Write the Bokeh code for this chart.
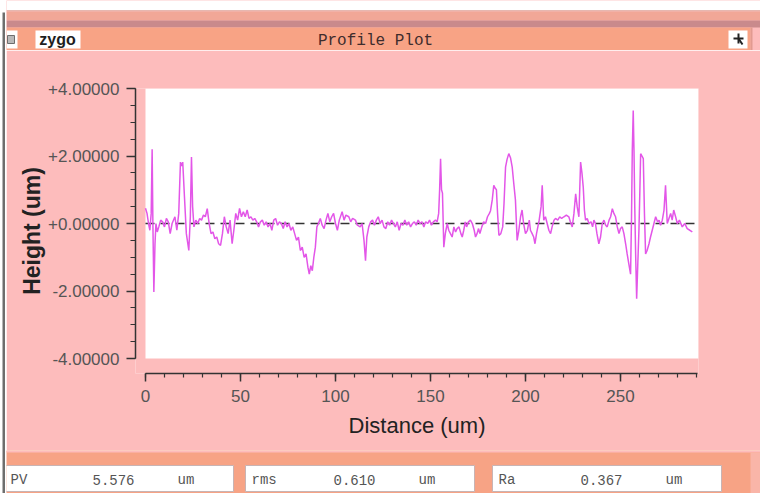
from bokeh.plotting import figure
from bokeh.models import Range1d, FixedTicker, CustomJSTickFormatter, BoxAnnotation
from bokeh.layouts import column, row
from bokeh.embed import file_html
from bokeh.resources import INLINE
from bokeh.core.properties import value

# ---------------- data ----------------
distance = [0, 0.8, 1.6, 2.3, 3.0, 3.5, 3.9, 4.4, 5.0, 5.5, 6.2, 7.0, 8.0, 9.0, 10.0, 11.0, 12.0, 13.0, 14.0,
            15.5, 16.5, 17.5, 18.4, 19.0, 19.6, 20.5, 21.5, 22.8, 23.6, 24.2, 24.8, 25.5, 26.5, 27.5, 28.5,
            29.5, 30.5, 31.5, 32.5, 33.5, 34.5, 35.5, 36.5, 37.5, 38.5, 39.5, 40.5, 41.5, 42.5, 43.5, 44.5,
            45.6, 46.5, 47.5, 48.5, 49.5, 50.5, 51.5, 52.5, 53.5, 54.5, 55.5, 56.5, 57.5, 58.5, 59.5, 60.5,
            61.5, 62.5, 63.5, 64.5, 65.5, 66.5, 67.5, 68.5, 69.5, 70.5, 71.5, 72.5, 73.5, 74.5, 75.5, 76.5,
            77.5, 78.5, 79.5, 80.5, 81.5, 82.5, 83.5, 84.5, 85.5, 86.2, 87.0, 87.8, 88.6, 89.4, 90.2, 91.0,
            92.0, 93.0, 94.0, 95.0, 96.0, 97.0, 98.0, 99.0, 100.0, 101.0, 102.0, 103.5, 104.5, 105.5, 107.0,
            108.0, 109.0, 110.5, 111.5, 113.0, 114.0, 115.0, 115.8, 116.5, 117.5, 118.5, 119.5, 120.5, 121.5,
            122.5, 123.5, 124.5, 125.5, 126.5, 127.5, 128.5, 129.5, 130.5, 131.5, 132.5, 133.5, 134.5, 135.5,
            136.5, 137.5, 138.5, 139.5, 140.5, 141.5, 142.5, 143.5, 144.5, 145.5, 146.5, 147.5, 148.5, 149.5,
            150.5, 151.5, 152.6, 153.5, 154.3, 154.8, 155.3, 155.8, 156.3, 157.0, 157.8, 158.8, 159.6, 160.5,
            161.4, 162.3, 163.2, 164.0, 165.0, 166.0, 166.7, 167.5, 168.3, 169.0, 170.0, 171.0, 172.0, 173.0,
            173.7, 174.5, 175.3, 176.0, 177.0, 178.0, 179.0, 180.0, 181.0, 181.6, 182.5, 183.3, 184.0, 184.7,
            185.3, 186.0, 187.0, 188.0, 188.7, 189.5, 190.3, 191.2, 192.1, 193.0, 193.8, 194.7, 195.6, 196.5,
            197.4, 198.2, 199.0, 200.0, 201.0, 202.0, 202.6, 203.5, 204.3, 205.0, 205.8, 206.5, 207.2, 208.2,
            208.8, 209.6, 210.5, 211.4, 212.3, 213.2, 214.0, 215.0, 215.8, 217.0, 218.0, 219.0, 220.2, 221.5,
            222.8, 223.6, 224.6, 225.5, 226.4, 227.2, 228.1, 229.0, 229.7, 230.4, 231.0, 231.6, 232.5, 233.4,
            234.5, 235.3, 236.0, 236.8, 237.6, 238.6, 239.5, 240.4, 241.3, 242.2, 243.0, 244.0, 244.8, 245.7,
            246.5, 247.4, 248.3, 249.2, 250.0, 250.9, 251.8, 252.7, 253.5, 254.4, 255.3, 255.8, 256.2, 256.7,
            257.1, 257.5, 258.0, 258.5, 259.1, 259.7, 260.2, 260.6, 261.3, 262.0, 262.6, 263.2, 264.0, 265.0,
            265.8, 266.7, 267.6, 268.5, 269.5, 270.3, 271.1, 272.0, 272.9, 273.7, 274.6, 275.5, 276.4, 277.2,
            278.0, 279.0, 279.9, 281.0, 282.5, 283.8, 285.1, 286.5, 287.8]
height = [0.45, 0.3, 0.0, -0.2, 0.3, 2.2, 0.0, -2.03, -0.6, 0.0, -0.25, -0.1, 0.1, 0.05, -0.1, 0.15, 0.05, -0.3, 0.0,
          0.2, -0.2, 0.3, 1.82, 1.7, 1.82, 0.8, -0.3, -0.8, 0.2, 1.97, 0.5, -0.1, 0.1, 0.0, 0.15,
          0.1, 0.25, 0.2, 0.44, 0.0, -0.3, -0.25, -0.45, -0.4, -0.6, -0.65, -0.3, 0.2, -0.1, -0.3, 0.1,
          -0.6, -0.2, 0.3, 0.1, 0.45, 0.2, 0.35, 0.2, 0.4, 0.15, 0.2, 0.1, 0.15, 0.05, -0.1, 0.05,
          0.1, -0.05, 0.05, -0.1, 0.0, -0.2, 0.1, 0.15, -0.05, 0.05, 0.0, -0.15, 0.05, -0.1, 0.0, -0.2,
          -0.1, -0.3, -0.5, -0.4, -0.8, -0.7, -1.0, -0.9, -1.3, -1.5, -1.25, -1.4, -1.0, -0.7, -0.1, 0.0,
          0.15, -0.05, -0.15, 0.1, 0.3, 0.05, 0.2, 0.3, 0.0, -0.2, 0.1, 0.35, 0.1, 0.25, 0.2,
          0.05, 0.15, 0.1, -0.05, -0.1, 0.0, -0.5, -1.1, -0.4, -0.1, 0.05, 0.1, -0.05, 0.1,
          0.2, 0.0, 0.1, -0.1, -0.15, 0.05, -0.05, 0.1, 0.0, -0.1, 0.05, -0.2, 0.0, -0.05,
          0.1, -0.05, 0.05, -0.1, 0.0, 0.05, -0.05, 0.1, 0.0, 0.05, -0.1, 0.05, 0.0, 0.1,
          -0.05, 0.05, 0.1, 0.05, 0.3, 1.0, 1.92, 1.0, 0.9, -0.7, -0.3, 0.0, -0.2, -0.3,
          -0.4, -0.1, -0.25, -0.15, -0.1, -0.3, -0.4, -0.2, 0.05, -0.1, 0.05, 0.1, 0.0, -0.2,
          -0.4, -0.3, -0.15, -0.3, -0.1, 0.05, 0.0, 0.2, 0.3, 0.38, 0.7, 1.13, 1.05, 1.0,
          0.3, -0.35, -0.3, -0.1, 0.6, 1.67, 1.9, 2.07, 1.95, 1.67, 1.2, 0.7, -0.5, -0.2,
          0.2, 0.4, 0.0, -0.3, -0.2, 0.1, -0.2, -0.3, -0.4, -0.6, -0.3, -0.1, 0.1, 0.5,
          1.13, 0.1, 0.2, 0.0, -0.2, -0.3, -0.1, 0.1, 0.15, 0.1, 0.2, 0.15, 0.2, 0.25,
          0.2, 0.05, -0.1, 0.3, 0.88, 0.5, 0.2, 1.82, 1.5, 1.07, 0.4, 0.1, 0.15, 0.0,
          0.05, -0.1, 0.1, 0.0, -0.3, -0.6, -0.4, 0.0, 0.1, -0.05, -0.1, 0.1, 0.2, 0.44,
          0.3, 0.2, -0.1, -0.3, -0.15, -0.1, -0.3, -0.6, -0.9, -1.2, -1.5, 0.2, 2.16, 3.35,
          2.16, 0.5, -1.0, -2.23, -1.2, -0.2, 1.0, 2.07, 2.0, 1.92, 0.3, -0.9, -0.8, -0.6,
          -0.4, -0.2, 0.0, 0.2, 0.05, 0.1, -0.05, 0.1, 0.4, 1.13, 0.0, 0.15, 0.3, 0.1,
          0.4, 0.2, 0.0, 0.1, -0.1, 0.0, -0.15, -0.2, -0.25]

x_ticks = [0, 50, 100, 150, 200, 250]
x_minor_ticks = [0, 10, 20, 30, 40, 50, 60, 70, 80, 90, 100, 110, 120, 130, 140, 150, 160, 170, 180, 190,
                 200, 210, 220, 230, 240, 250, 260, 270, 280, 290]
y_ticks = [-4, -2, 0, 2, 4]
y_minor_ticks = [-4, -3.5, -3, -2.5, -2, -1.5, -1, -0.5, 0, 0.5, 1, 1.5, 2, 2.5, 3, 3.5, 4]
x_end = 290.5

stat_names = ["PV", "rms", "Ra"]
stat_values = ["5.576", "0.610", "0.367"]
stat_units = ["um", "um", "um"]

window_title = "Profile Plot"
badge_text = "zygo"

# ---------------- styles ----------------
PINK = "#FDBCBC"
ORANGE = "#F7A385"
TITLE_ORANGE = "#F8A385"
MONO = "Liberation Mono"
SANS = "Liberation Sans"


def deco(w, h, bg):
    f = figure(width=w, height=h, x_range=Range1d(0, w), y_range=Range1d(h, 0),
               output_backend="svg", toolbar_location=None, min_border=0,
               x_axis_location=None, y_axis_location=None, outline_line_color=None,
               background_fill_color=bg, border_fill_color=bg, frame_align=False)
    f.grid.visible = False
    return f


# ---------------- left window edge ----------------
left = deco(6, 493, "#FFFFFF")
left.quad(left=[2], right=[4.5], top=[12], bottom=[493], fill_color="#6E6E6E", line_color=None)

# ---------------- title bar ----------------
W = 754
top = deco(W, 50, PINK)
top.quad(left=[0], right=[W], top=[0], bottom=[9.5], fill_color="#FFFFFF", line_color=None)
top.quad(left=[0], right=[W], top=[9.5], bottom=[11], fill_color="#E6B7B0", line_color=None)
top.quad(left=[0], right=[W], top=[11], bottom=[20], fill_color="#F1A797", line_color=None)
top.quad(left=[0], right=[W], top=[20], bottom=[27], fill_color="#C98A8C", line_color=None)
top.quad(left=[0], right=[744], top=[27], bottom=[50], fill_color=TITLE_ORANGE, line_color=None)
top.quad(left=[744], right=[746], top=[27], bottom=[50], fill_color="#E29A90", line_color=None)
# small left icon
top.quad(left=[0], right=[11], top=[30], bottom=[48], fill_color="#FFFFFF", line_color=None)
top.quad(left=[1], right=[8], top=[35], bottom=[43], fill_color="#B9B9B9", line_color="#6E6E6E")
# zygo badge
top.quad(left=[29], right=[74], top=[30], bottom=[48], fill_color="#FFFFFF", line_color=None)
top.text(x=[51], y=[39], text=[badge_text], text_font=value(SANS), text_font_style="bold",
         text_font_size="16px", text_color="#1E1E1E", text_align="center", text_baseline="middle")
# title
top.text(x=[369], y=[40], text=[window_title], text_font=value(MONO), text_font_size="16px",
         text_color="#3E2C2C", text_align="center", text_baseline="middle")
# right icon
top.quad(left=[722], right=[741], top=[30], bottom=[48], fill_color="#FFFFFF", line_color=None)
top.segment(x0=[727, 732, 732], y0=[38, 33, 38], x1=[737, 732, 736], y1=[38, 43, 44],
            line_color="#222222", line_width=2)

# ---------------- main plot ----------------
p = figure(width=W, height=400, x_range=Range1d(-5.26, 291.05), y_range=Range1d(-4.444, 4.0),
           output_backend="svg", toolbar_location=None, frame_align=False,
           min_border_left=129, min_border_right=62, min_border_top=38, min_border_bottom=77,
           background_fill_color=PINK, border_fill_color=PINK, outline_line_color=None)
p.grid.visible = False

p.add_layout(BoxAnnotation(left=0, bottom=-4, top=4, fill_color="#FFFFFF", fill_alpha=1.0,
                           line_color=None, level="underlay"))

p.segment(x0=[0], y0=[0], x1=[x_end], y1=[0], line_color="#333333", line_width=1.6, line_dash="9 6")
p.line(distance, height, line_color="#E356E8", line_width=1.5)

for ax in (p.xaxis[0], p.yaxis[0]):
    ax.axis_line_color = "#333333"
    ax.axis_line_width = 1.5
    ax.major_tick_line_color = "#333333"
    ax.minor_tick_line_color = "#333333"
    ax.major_tick_line_width = 1.5
    ax.minor_tick_line_width = 1.2
    ax.major_tick_in = 0
    ax.minor_tick_in = 0
    ax.major_label_text_font = SANS
    ax.major_label_text_color = "#555555"
    ax.axis_label_text_font = SANS
    ax.axis_label_text_color = "#222222"
    ax.axis_label_text_font_style = "normal"

p.xaxis.ticker = FixedTicker(ticks=x_ticks, minor_ticks=x_minor_ticks)
p.xaxis.bounds = (0, x_end)
p.xaxis.major_tick_out = 8
p.xaxis.minor_tick_out = 4
p.xaxis.major_label_standoff = 8
p.xaxis.major_label_text_font_size = "17px"
p.xaxis.axis_label = "Distance (um)"
p.xaxis.axis_label_text_font_size = "22px"
p.xaxis.axis_label_standoff = 8

p.yaxis.ticker = FixedTicker(ticks=y_ticks, minor_ticks=y_minor_ticks)
p.yaxis.bounds = (-4, 4)
p.yaxis.major_tick_out = 9
p.yaxis.minor_tick_out = 5
p.yaxis.major_label_standoff = 7
p.yaxis.major_label_text_font_size = "17px"
p.yaxis.formatter = CustomJSTickFormatter(code="return (tick >= 0 ? '+' : '') + tick.toFixed(5);")
p.yaxis.axis_label = "Height (um)"
p.yaxis.axis_label_text_font_size = "23px"
p.yaxis.axis_label_text_font_style = "bold"
p.yaxis.axis_label_standoff = 0

# ---------------- status bar ----------------
bot = deco(W, 43, ORANGE)
bot.quad(left=[0], right=[W], top=[0], bottom=[2], fill_color=PINK, line_color=None)
bot.quad(left=[744], right=[W], top=[2], bottom=[43], fill_color="#F9B5A8", line_color=None)
box_left = [-2, 239, 486]
box_w = 229
for i in range(len(stat_names)):
    bx = box_left[i]
    bot.quad(left=[bx], right=[bx + box_w], top=[15], bottom=[41], fill_color="#FFFFFF",
             line_color="#C8B4B4", line_width=1)
    bot.text(x=[bx + 6, bx + 88, bx + 173], y=[29, 29, 29],
             text=[stat_names[i], stat_values[i], stat_units[i]],
             text_font=value(MONO), text_font_size="14px", text_color="#555555",
             text_align="left", text_baseline="middle")

layout = row(left, column(top, p, bot, spacing=0), spacing=0)
open("out.html", "w").write(file_html(layout, INLINE))
